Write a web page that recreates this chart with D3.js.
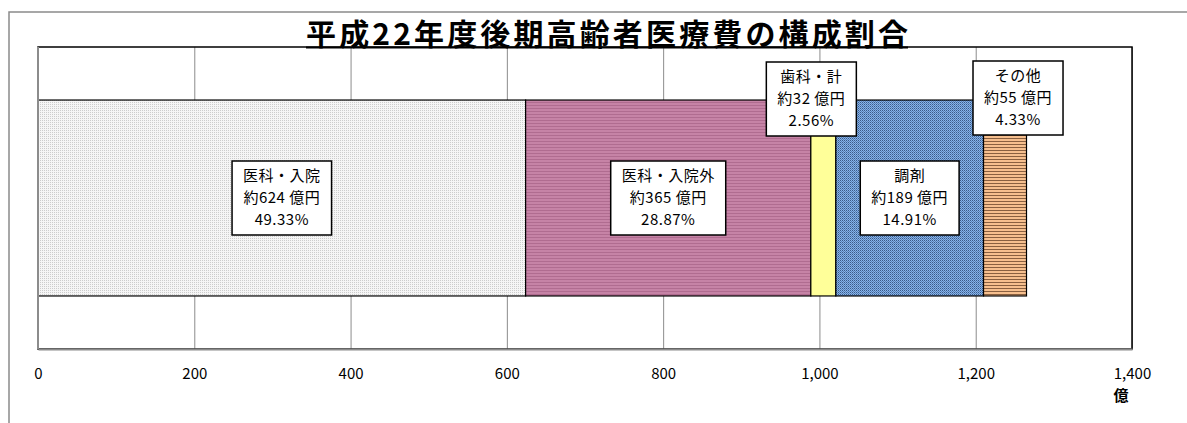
<!DOCTYPE html>
<html>
<head>
<meta charset="utf-8">
<script src="https://cdn.jsdelivr.net/npm/d3@7"></script>
<style>
  body { margin: 0; background: #fff; }
  text { font-family: "Noto Sans CJK JP", "Noto Sans", sans-serif; fill: #000; }
</style>
</head>
<body>
<script>
// data
const categories = ['医科・入院', '医科・入院外', '歯科・計', '調剤', 'その他'];
const amounts = [624, 365, 32, 189, 55];            // 億円
const shares = ['49.33%', '28.87%', '2.56%', '14.91%', '4.33%'];
const xTicks = [0, 200, 400, 600, 800, 1000, 1200, 1400];
const chartTitle = '平成22年度後期高齢者医療費の構成割合';
const unitLabel = '億';

const width = 1187, height = 423;
const plot = { left: 38, right: 1132, top: 47, bottom: 349 };

const svg = d3.select('body').append('svg')
    .attr('width', width)
    .attr('height', height);

// fill patterns (Excel style hatching)
const defs = svg.append('defs');

const pDots = defs.append('pattern').attr('id', 'pDots')
    .attr('width', 2).attr('height', 2).attr('patternUnits', 'userSpaceOnUse');
pDots.append('rect').attr('width', 2).attr('height', 2).attr('fill', '#f6f6f6');
pDots.append('rect').attr('width', 1).attr('height', 1).attr('fill', '#cdcdcd');

const pMauve = defs.append('pattern').attr('id', 'pMauve')
    .attr('width', 4).attr('height', 3).attr('patternUnits', 'userSpaceOnUse');
pMauve.append('rect').attr('width', 4).attr('height', 3).attr('fill', '#c683a6');
pMauve.append('rect').attr('width', 4).attr('height', 1).attr('fill', '#b06c90');

const pBlue = defs.append('pattern').attr('id', 'pBlue')
    .attr('width', 2).attr('height', 2).attr('patternUnits', 'userSpaceOnUse');
pBlue.append('rect').attr('width', 2).attr('height', 2).attr('fill', '#86b4ea');
pBlue.append('rect').attr('width', 1).attr('height', 1).attr('fill', '#3a5a8a');
pBlue.append('rect').attr('x', 1).attr('y', 1).attr('width', 1).attr('height', 1).attr('fill', '#5a80b5');

const pOrange = defs.append('pattern').attr('id', 'pOrange')
    .attr('width', 4).attr('height', 3).attr('patternUnits', 'userSpaceOnUse');
pOrange.append('rect').attr('width', 4).attr('height', 3).attr('fill', '#f6bf8e');
pOrange.append('rect').attr('width', 4).attr('height', 1).attr('fill', '#8a6040');

const fills = ['url(#pDots)', 'url(#pMauve)', '#ffff99', 'url(#pBlue)', 'url(#pOrange)'];

// outer chart frame (runs off the right and bottom)
svg.append('rect')
    .attr('x', 9).attr('y', 12)
    .attr('width', width).attr('height', height)
    .attr('fill', 'none').attr('stroke', '#8a8a8a').attr('stroke-width', 1.5);

// scales
const x = d3.scaleLinear()
    .domain([xTicks[0], xTicks[xTicks.length - 1]])
    .range([plot.left, plot.right]);

const y = d3.scaleBand()
    .domain(['total'])
    .range([plot.top, plot.bottom])
    .padding(0.213);

// stacked segments
const ends = d3.cumsum(amounts);
const segs = amounts.map((v, i) => ({
    name: categories[i], value: v, share: shares[i],
    x0: ends[i] - v, x1: ends[i], fill: fills[i]
}));

// gridlines
svg.append('g')
    .attr('transform', 'translate(0,' + plot.bottom + ')')
    .call(d3.axisBottom(x).tickValues(xTicks).tickSize(-(plot.bottom - plot.top)).tickFormat(''))
    .call(g => g.select('.domain').remove())
    .selectAll('line').attr('stroke', '#8c8c8c').attr('stroke-width', 1);

// plot area border
svg.append('rect')
    .attr('x', plot.left).attr('y', plot.top)
    .attr('width', plot.right - plot.left).attr('height', plot.bottom - plot.top)
    .attr('fill', 'none').attr('stroke', '#000').attr('stroke-width', 1.5);

// bars
svg.selectAll('.seg').data(segs)
    .enter()
    .append('rect')
    .attr('class', 'seg')
    .attr('x', d => x(d.x0))
    .attr('y', y('total'))
    .attr('width', d => x(d.x1) - x(d.x0))
    .attr('height', y.bandwidth())
    .attr('fill', d => d.fill)
    .attr('stroke', '#000')
    .attr('stroke-width', 1.2);

// grey axis lines on left and bottom
svg.append('line')
    .attr('x1', plot.left).attr('x2', plot.left)
    .attr('y1', plot.top).attr('y2', plot.bottom)
    .attr('stroke', '#8c8c8c').attr('stroke-width', 2);

const xAxis = svg.append('g')
    .attr('transform', 'translate(0,' + plot.bottom + ')')
    .call(d3.axisBottom(x).tickValues(xTicks).tickSize(0).tickPadding(19).tickFormat(d3.format(',')));
xAxis.select('.domain').attr('stroke', '#8c8c8c').attr('stroke-width', 2);
xAxis.selectAll('text')
    .style('font-family', '"Noto Sans CJK JP", sans-serif')
    .style('font-size', '15px')
    .attr('fill', '#000');

svg.append('text')
    .attr('x', 1121).attr('y', 401)
    .attr('text-anchor', 'middle')
    .style('font-size', '15px').style('font-weight', 'bold')
    .text(unitLabel);

// title, underlined
const title = svg.append('text')
    .attr('x', 607).attr('y', 45)
    .attr('text-anchor', 'middle')
    .attr('textLength', 602)
    .attr('lengthAdjust', 'spacing')
    .style('font-size', '30px').style('font-weight', 'bold')
    .text(chartTitle);
svg.append('line')
    .attr('x1', 607 - 301).attr('x2', 607 + 301)
    .attr('y1', 47.5).attr('y2', 47.5)
    .attr('stroke', '#000').attr('stroke-width', 2);

// data labels; the small segments have their labels moved above the bar
const labelShift = { '歯科・計': [-12, -99], 'その他': [13, -100] };

const labels = svg.selectAll('.lbl').data(segs)
    .enter()
    .append('g')
    .attr('class', 'lbl')
    .attr('transform', d => {
        const s = labelShift[d.name] || [0, 0];
        const cx = (x(d.x0) + x(d.x1)) / 2 + s[0];
        const cy = y('total') + y.bandwidth() / 2 + s[1];
        return 'translate(' + cx + ',' + cy + ')';
    });

const lineH = 22;
labels.each(function (d) {
    const g = d3.select(this);
    const box = g.append('rect');
    const lines = [d.name, '約' + d.value + ' 億円', d.share];
    const texts = lines.map((s, i) => g.append('text')
        .attr('x', 0)
        .attr('y', (i - 1) * lineH + 5)
        .attr('text-anchor', 'middle')
        .style('font-size', '15px')
        .style('letter-spacing', '0.5px')
        .text(s));
    const w = d3.max(texts, t => t.node().getComputedTextLength());
    box.attr('x', -(w / 2 + 11)).attr('y', -37)
        .attr('width', w + 22).attr('height', 74)
        .attr('fill', '#fff').attr('stroke', '#000').attr('stroke-width', 1.5);
});
</script>
</body>
</html>
